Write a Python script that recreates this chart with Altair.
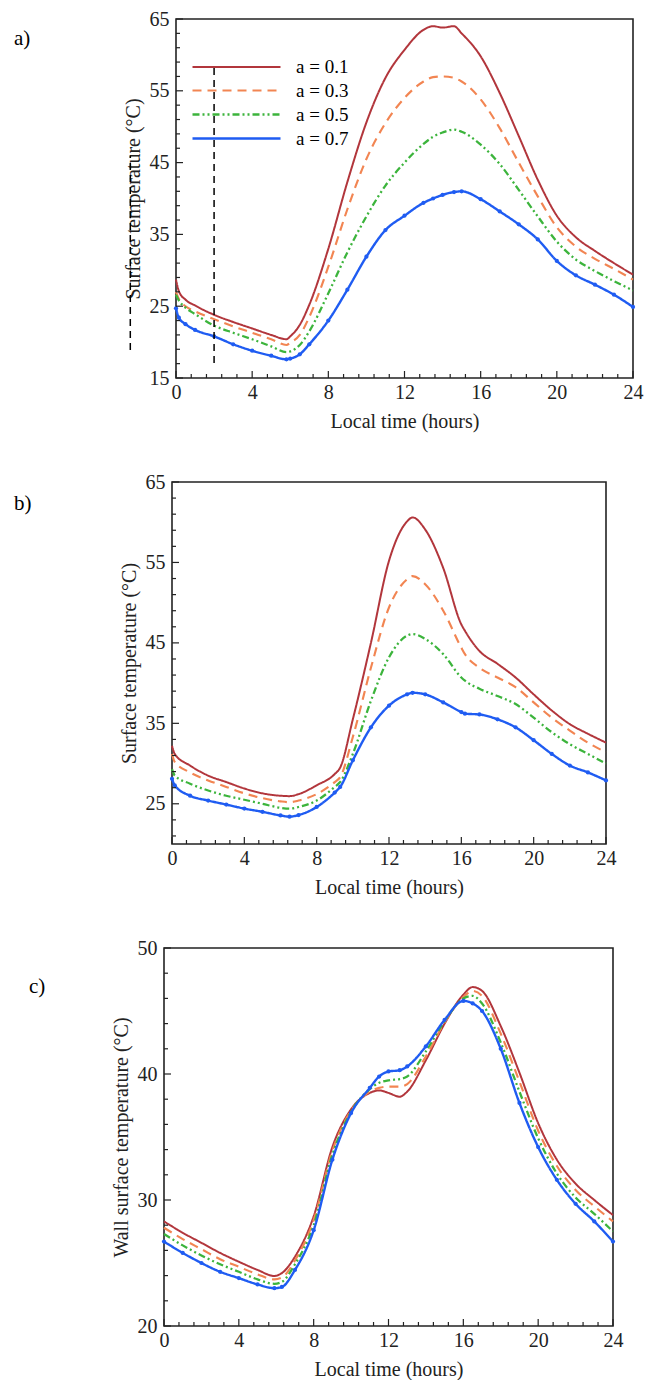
import altair as alt
import pandas as pd

SERIES = ["a = 0.1", "a = 0.3", "a = 0.5", "a = 0.7"]
COLORS = ["#B2363C", "#F28552", "#3CB43C", "#1F5CF2"]
DASHES = [[1, 0], [9, 6], [7, 3, 2, 3, 2, 3], [1, 0]]
WIDTHS = [2.0, 2.4, 1.6, 1.8]

X_MAJOR = [0, 4, 8, 12, 16, 20, 24]
X_MINOR = [0.8, 1.6, 2.4, 3.2, 4.8, 5.6, 6.4, 7.2, 8.8, 9.6, 10.4, 11.2,
           12.8, 13.6, 14.4, 15.2, 16.8, 17.6, 18.4, 19.2, 20.8, 21.6, 22.4, 23.2]

# ---- panel a ----
A_T = [0, 0.15, 0.5, 1, 2, 3, 4, 5, 5.8, 6, 6.5, 7, 8, 9, 10, 11, 12, 13, 13.5, 14,
       14.6, 15, 16, 17, 18, 19, 20, 21, 22, 23, 24]
A_01 = [28.7, 27.1, 25.9, 25.1, 23.8, 22.8, 21.9, 21.0, 20.4, 20.8, 22.4, 25.2, 33.0, 42.3,
        50.6, 56.8, 60.7, 63.5, 64.0, 63.8, 64.0, 63.0, 59.8, 54.7, 48.7, 42.6, 37.6, 34.6,
        32.7, 31.0, 29.4]
A_03 = [27.0, 26.0, 25.0, 24.3, 23.2, 22.2, 21.3, 20.4, 19.6, 19.9, 21.0, 23.5, 30.5, 38.5,
        45.5, 50.5, 54.0, 56.3, 56.9, 57.0, 56.8, 56.3, 53.8, 49.8, 45.0, 40.3, 36.0, 33.3,
        31.6, 30.2, 28.7]
A_05 = [26.6, 25.8, 24.8, 23.9, 22.3, 21.3, 20.4, 19.4, 18.6, 18.7, 19.6, 21.5, 26.8, 32.5,
        37.5, 41.8, 45.0, 47.6, 48.6, 49.2, 49.6, 49.3, 47.5, 44.8, 41.2, 37.5, 34.0, 31.5,
        29.9, 28.5, 27.2]
A_07 = [24.7, 23.4, 22.5, 21.7, 20.8, 19.7, 18.8, 18.1, 17.6, 17.7, 18.3, 19.7, 23.0, 27.3,
        31.9, 35.6, 37.6, 39.4, 40.0, 40.5, 40.9, 41.0, 39.9, 38.2, 36.4, 34.3, 31.3, 29.3,
        28.0, 26.6, 24.9]
A_Y_MAJOR = [15, 25, 35, 45, 55, 65]
A_Y_MINOR = [17, 19, 21, 23, 27, 29, 31, 33, 37, 39, 41, 43, 47, 49, 51, 53, 57, 59, 61, 63]
# stray dashed lines visible in panel a
ART_X = [2.0, -2.4]
ART_Y1 = [17.1, 18.9]
ART_Y2 = [58.3, 46.0]

# ---- panel b ----
B_T = [0, 0.15, 1, 2, 3, 4, 5, 6, 6.5, 7, 8, 9, 9.3, 10, 11, 12, 13, 13.3, 14, 15, 16, 16.2,
       17, 18, 19, 20, 21, 22, 23, 24]
B_01 = [32.2, 31.2, 29.75, 28.5, 27.7, 26.9, 26.3, 26.0, 25.95, 26.2, 27.3, 28.7, 29.5, 35.5,
        45.0, 55.2, 60.1, 60.6, 59.1, 54.3, 47.3, 46.5, 44.0, 42.4, 40.7, 38.6, 36.6, 34.9,
        33.7, 32.6]
B_03 = [31.2, 30.2, 28.9, 27.9, 27.1, 26.3, 25.7, 25.3, 25.2, 25.4, 26.2, 27.7, 28.3, 33.3,
        41.9, 49.4, 52.9, 53.3, 52.3, 49.0, 44.4, 43.6, 41.9, 40.7, 39.5, 37.6, 35.7, 34.1,
        32.6, 31.4]
B_05 = [29.3, 28.5, 27.5, 26.65, 26.0, 25.5, 25.0, 24.5, 24.4, 24.6, 25.4, 27.1, 27.7, 31.2,
        37.8, 43.2, 45.9, 46.1, 45.5, 43.6, 40.7, 40.3, 39.3, 38.4, 37.4, 35.7, 33.9, 32.4,
        31.2, 30.0]
B_07 = [28.1, 27.3, 26.0, 25.4, 24.9, 24.4, 24.0, 23.55, 23.4, 23.6, 24.6, 26.4, 27.1, 30.4,
        34.5, 37.2, 38.6, 38.8, 38.6, 37.6, 36.4, 36.2, 36.1, 35.5, 34.5, 32.9, 31.2, 29.75,
        28.9, 27.9]
B_Y_MAJOR = [25, 35, 45, 55, 65]
B_Y_MINOR = [21, 23, 27, 29, 31, 33, 37, 39, 41, 43, 47, 49, 51, 53, 57, 59, 61, 63]

# ---- panel c ----
C_T = [0, 1, 2, 3, 4, 5, 5.9, 6.3, 7, 8, 9, 10, 11, 11.5, 12, 12.6, 13, 14, 15, 16, 16.5,
       17, 18, 19, 20, 21, 22, 23, 24]
C_01 = [28.3, 27.4, 26.6, 25.8, 25.1, 24.45, 23.97, 24.2, 25.5, 28.7, 34.2, 37.2, 38.5, 38.7,
        38.5, 38.2, 38.6, 41.1, 44.0, 46.3, 46.9, 46.6, 43.8, 40.1, 36.1, 33.2, 31.3, 30.0,
        28.8]
C_03 = [27.8, 26.9, 26.1, 25.3, 24.7, 24.1, 23.7, 23.85, 25.2, 28.4, 33.9, 37.1, 38.6, 38.9,
        39.0, 39.0, 39.2, 41.4, 44.1, 46.1, 46.6, 46.2, 43.2, 39.4, 35.5, 32.7, 30.8, 29.5,
        28.3]
C_05 = [27.3, 26.4, 25.6, 24.9, 24.3, 23.7, 23.35, 23.5, 24.9, 28.0, 33.6, 37.0, 38.8, 39.3,
        39.5, 39.6, 39.8, 41.8, 44.2, 46.0, 46.2, 45.6, 42.5, 38.6, 34.9, 32.1, 30.2, 28.9,
        27.5]
C_07 = [26.7, 25.8, 25.0, 24.3, 23.8, 23.3, 23.0, 23.1, 24.45, 27.6, 33.2, 36.9, 38.9, 39.8,
        40.2, 40.3, 40.6, 42.2, 44.3, 45.8, 45.6, 45.0, 42.0, 37.7, 34.2, 31.6, 29.7, 28.3,
        26.7]
C_Y_MAJOR = [20, 30, 40, 50]
C_Y_MINOR = [22, 24, 26, 28, 32, 34, 36, 38, 42, 44, 46, 48]

FONT = "Liberation Serif"
INK = "#222222"


def frame(t, cols):
    rows = []
    for name, vals in zip(SERIES, cols):
        for tt, v in zip(t, vals):
            rows.append({"t": tt, "T": v, "a": name})
    return pd.DataFrame(rows)


def inner_ticks(xs, ys, xvals, yvals, length, H):
    xt = alt.Chart(pd.DataFrame({"v": xvals})).mark_rule(color=INK, strokeWidth=1.2).encode(
        x=alt.X("v:Q", scale=xs, axis=None),
        y=alt.value(H), y2=alt.value(H - length))
    yt = alt.Chart(pd.DataFrame({"v": yvals})).mark_rule(color=INK, strokeWidth=1.2).encode(
        y=alt.Y("v:Q", scale=ys, axis=None),
        x=alt.value(0), x2=alt.value(length))
    return [xt, yt]


def panel(df, W, H, ydom, ymaj, ymin, ytitle, tag, tag_x, tag_y, legend, art=None):
    xs = alt.Scale(domain=[0, 24], nice=False, zero=False)
    ys = alt.Scale(domain=ydom, nice=False, zero=False)
    base = alt.Chart(df)
    if legend:
        leg = alt.Legend(title=None, orient="none", legendX=48, legendY=36, padding=0,
                         symbolType="M-4,0H4", symbolSize=484, symbolStrokeWidth=2,
                         labelFont=FONT, labelFontSize=19, labelOffset=47,
                         rowPadding=1, labelColor="black", labelLimit=200)
    else:
        leg = None
    lines = base.mark_line(interpolate="monotone").encode(
        x=alt.X("t:Q", scale=xs, axis=alt.Axis(
            orient="bottom", values=X_MAJOR, title="Local time (hours)", ticks=False,
            tickSize=0, domain=False, grid=False, labelPadding=4, titlePadding=9,
            labelFlush=False)),
        y=alt.Y("T:Q", scale=ys, axis=alt.Axis(
            orient="left", values=ymaj, title=ytitle, ticks=False, tickSize=0,
            domain=False, grid=False, labelPadding=7, titlePadding=6, labelFlush=False)),
        color=alt.Color("a:N", scale=alt.Scale(domain=SERIES, range=COLORS), legend=leg),
        strokeDash=alt.StrokeDash("a:N", scale=alt.Scale(domain=SERIES, range=DASHES),
                                  legend=leg),
        strokeWidth=alt.StrokeWidth("a:N", scale=alt.Scale(domain=SERIES, range=WIDTHS),
                                    legend=None),
    )
    pts = base.transform_filter(alt.datum.a == SERIES[3]).mark_point(
        filled=True, size=18, opacity=1, color=COLORS[3]).encode(
        x=alt.X("t:Q", scale=xs, axis=None),
        y=alt.Y("T:Q", scale=ys, axis=None),
    )
    layers = [lines, pts]
    layers += inner_ticks(xs, ys, X_MAJOR, ymaj, 7, H)
    layers += inner_ticks(xs, ys, X_MINOR, ymin, 4, H)
    if art is not None:
        layers.append(alt.Chart(art).mark_rule(color="black", strokeDash=[7, 5],
                                               strokeWidth=1.5).encode(
            x=alt.X("x:Q", scale=xs, axis=None),
            y=alt.Y("y1:Q", scale=ys, axis=None),
            y2="y2:Q"))
    layers.append(alt.Chart(pd.DataFrame({"s": [tag]})).mark_text(
        font=FONT, fontSize=21, align="left", baseline="alphabetic", color="black").encode(
        text="s:N", x=alt.value(tag_x), y=alt.value(tag_y)))
    return alt.layer(*layers).resolve_axis(x="independent", y="independent").properties(
        width=W, height=H, view=alt.ViewBackground(stroke=INK, strokeWidth=1.6))


def spacer(w):
    return alt.Chart(pd.DataFrame({"v": [0]})).mark_point(opacity=0).encode(
        x=alt.X("v:Q", axis=None), y=alt.Y("v:Q", axis=None)
    ).properties(width=w, height=10, view=alt.ViewBackground(strokeOpacity=0))


art = pd.DataFrame({"x": ART_X, "y1": ART_Y1, "y2": ART_Y2})
pa = panel(frame(A_T, [A_01, A_03, A_05, A_07]), 457, 359, [15, 65], A_Y_MAJOR, A_Y_MINOR,
           "Surface temperature (°C)", "a)", -162, 26, True, art)
pb = panel(frame(B_T, [B_01, B_03, B_05, B_07]), 434, 362, [20, 65], B_Y_MAJOR, B_Y_MINOR,
           "Surface temperature (°C)", "b)", -158, 28, False)
pc = panel(frame(C_T, [C_01, C_03, C_05, C_07]), 449, 378, [20, 50], C_Y_MAJOR, C_Y_MINOR,
           "Wall surface temperature (°C)", "c)", -135, 45, False)

IND = dict(color="independent", strokeDash="independent", strokeWidth="independent")
rowA = alt.hconcat(spacer(12), pa, spacing=0, bounds="flush").resolve_scale(**IND)
rowB = alt.hconcat(spacer(8), pb, spacing=0, bounds="flush").resolve_scale(**IND)

chart = alt.vconcat(rowA, rowB, pc, spacing=39).resolve_scale(
    **IND).properties(
    padding={"left": 5, "top": 0, "right": 5, "bottom": 0}, background="white"
).configure_view(strokeWidth=0).configure_axis(
    labelFont=FONT, labelFontSize=20, labelColor=INK,
    titleFont=FONT, titleFontSize=20, titleFontWeight="normal", titleColor=INK,
)

chart.save("out.html", embed_options={"renderer": "svg", "actions": False})
